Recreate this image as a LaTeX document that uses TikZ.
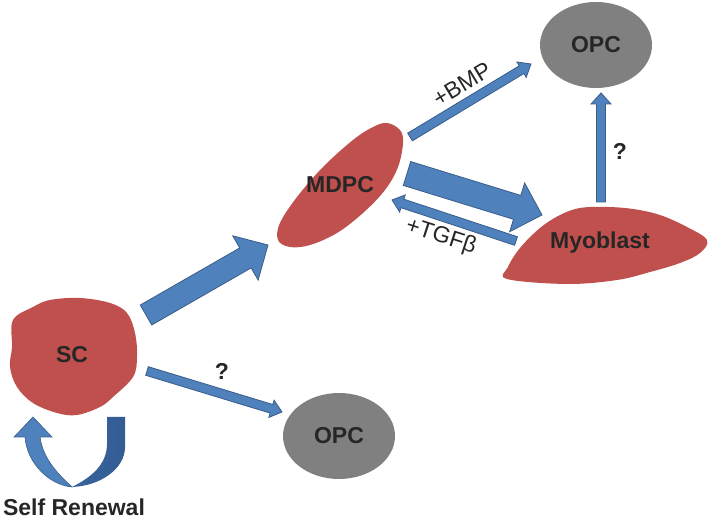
\documentclass[tikz,border=0pt]{standalone}
\usepackage{fontspec}
\setmainfont{Liberation Sans}
\usetikzlibrary{calc, shapes.geometric}
\definecolor{cellred}{RGB}{192,80,77}
\definecolor{opcgray}{RGB}{128,128,128}
\definecolor{arrowblue}{RGB}{79,129,189}
\definecolor{arrowedge}{RGB}{56,93,138}
\definecolor{loopdark}{RGB}{52,92,148}
\definecolor{textdark}{RGB}{38,38,38}

% block arrow: from, to, half shaft, half head, head length
\newcommand{\blockarrow}[5]{%
    \coordinate (hb) at ($(#2)!#5!(#1)$);
    \draw[blockarrow] ($(#1)!#3!90:(#2)$) -- ($(hb)!#3!90:(#2)$) -- ($(hb)!#4!90:(#2)$) -- (#2)
        -- ($(hb)!#4!-90:(#2)$) -- ($(hb)!#3!-90:(#2)$) -- ($(#1)!#3!-90:(#2)$) -- cycle;
}

\begin{document}
\begin{tikzpicture}[x=1pt, y=1pt,
    cell/.style={font=\bfseries\fontsize{23}{27}\selectfont, text=textdark},
    opc/.style={cell, ellipse, fill=opcgray, minimum width=112pt, minimum height=86pt, inner sep=0pt},
    lbl/.style={font=\fontsize{23}{27}\selectfont, text=textdark, inner sep=0pt},
    blockarrow/.style={fill=arrowblue, draw=arrowedge, line width=0.8pt, line join=miter}]
\useasboundingbox (0,0) rectangle (709,519);

% cell bodies
\fill[cellred] plot[smooth cycle, tension=0.6] coordinates {(50,219) (33,212) (13,199) (12,172) (10,152) (17,132) (33,116) (57,106) (77,104) (100,112) (113,122) (133,142) (137,162) (135,186) (127,206) (110,216) (80,221)};
\fill[cellred] plot[smooth cycle, tension=0.6] coordinates {(387,396) (400,389) (403,376) (398,352) (385,329) (363,306) (337,286) (310,274) (290,272) (278,279) (280,296) (297,322) (323,352) (353,379) (373,392)};
\fill[cellred] plot[smooth cycle, tension=0.6] coordinates {(507,240) (567,235) (617,239) (650,247) (680,256) (700,266) (707,279) (687,292) (660,304) (633,310) (607,312) (580,311) (560,304) (540,291) (520,271) (508,252)};

\node[cell] (sc) at (72,164) {SC};
\node[cell] (mdpc) at (340,334) {MDPC};
\node[cell] (myo) at (600,276) {Myoblast};
\node[opc] (opcA) at (596,474) {OPC};
\node[opc] (opcB) at (339,83) {OPC};

% arrow ends
\coordinate (sc-a) at ($(sc)+(74,40)$);
\coordinate (sc-b) at ($(sc)+(75,-16)$);
\coordinate (mdpc-a) at ($(mdpc)+(-72,-60)$);
\coordinate (mdpc-b) at ($(mdpc)+(67,11.5)$);
\coordinate (mdpc-c) at ($(mdpc)+(70,48)$);
\coordinate (mdpc-d) at ($(mdpc)+(52,-15)$);
\coordinate (myo-a) at ($(myo)+(-58,28)$);
\coordinate (myo-b) at ($(myo)+(-84,2)$);
\coordinate (myo-c) at ($(myo)+(1,41)$);
\coordinate (opcA-a) at ($(opcA)+(-65,-19)$);
\coordinate (opcA-b) at ($(opcA)+(5,-48)$);
\coordinate (opcB-a) at ($(opcB)+(-57,24)$);

\blockarrow{sc-a}{mdpc-a}{11.5pt}{25.5pt}{26pt}
\blockarrow{mdpc-b}{myo-a}{12.5pt}{25.5pt}{26pt}
\blockarrow{mdpc-c}{opcA-a}{4.5pt}{9pt}{11pt}
\blockarrow{myo-b}{mdpc-d}{4.5pt}{9pt}{11pt}
\blockarrow{myo-c}{opcA-b}{4.5pt}{10pt}{11pt}
\blockarrow{sc-b}{opcB-a}{4.5pt}{9pt}{11pt}

\node[lbl, rotate=31] (bmp) at (462,435) {+BMP};
\node[lbl, rotate=-18] (tgf) at (441,282) {+TGFβ};
\node[lbl, font=\bfseries\fontsize{23}{27}\selectfont] (qa) at (222,148) {?};
\node[lbl, font=\bfseries\fontsize{23}{27}\selectfont] (qb) at (620,368) {?};

% self renewal loop
\fill[arrowblue, draw=arrowedge, line width=0.6pt] (25,82) .. controls (27,55) and (50,34) .. (72,32)
    .. controls (58,45) and (43,60) .. (40,82) -- (52,82) -- (33,102) -- (14,82) -- cycle;
\shade[left color=loopdark!80!arrowblue, right color=loopdark] (107,102) -- (125,102) -- (125,72)
    .. controls (125,50) and (100,33) .. (72,32) .. controls (92,42) and (107,55) .. (107,75) -- cycle;
\node[cell] (renew) at (74,12) {Self Renewal};
\end{tikzpicture}
\end{document}
